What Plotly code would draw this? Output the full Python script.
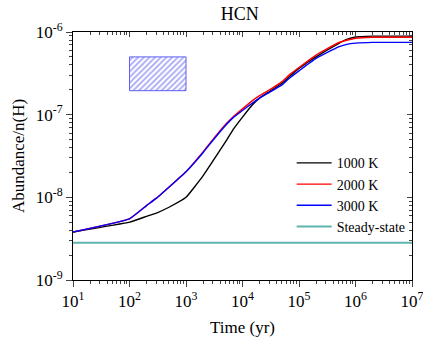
import numpy as np
import plotly.graph_objects as go

# Time (yr) and log10 abundance
t_1000 = [10, 100, 200, 300, 500, 1000, 2000, 3000, 5000, 7000, 1e4, 1.5e4, 2e4, 3e4, 5e4, 7e4, 1e5, 2e5, 5e5, 7e5, 1e6, 2e6, 1e7]
logy_1000 = [-8.42, -8.30, -8.23, -8.19, -8.12, -8.00, -7.74, -7.56, -7.33, -7.17, -7.03, -6.88, -6.80, -6.72, -6.62, -6.53, -6.44, -6.30, -6.14, -6.09, -6.06, -6.05, -6.05]

t_2000 = [10, 100, 200, 300, 1000, 2000, 3000, 5000, 7000, 1e4, 1.5e4, 2e4, 3e4, 5e4, 7e4, 1e5, 2e5, 5e5, 7e5, 1e6, 2e6, 1e7]
logy_2000 = [-8.42, -8.26, -8.10, -8.01, -7.69, -7.45, -7.30, -7.12, -7.02, -6.93, -6.83, -6.77, -6.70, -6.60, -6.51, -6.43, -6.28, -6.13, -6.10, -6.075, -6.064, -6.064]

t_3000 = [10, 100, 200, 300, 1000, 2000, 3000, 5000, 7000, 1e4, 1.5e4, 2e4, 3e4, 5e4, 7e4, 1e5, 2e5, 5e5, 7e5, 1e6, 2e6, 1e7]
logy_3000 = [-8.42, -8.26, -8.10, -8.01, -7.69, -7.46, -7.31, -7.13, -7.03, -6.95, -6.86, -6.80, -6.73, -6.64, -6.55, -6.47, -6.32, -6.18, -6.15, -6.135, -6.125, -6.125]

t_ss = [10, 1e7]
y_ss = [2.83e-9, 2.83e-9]

# hatched observational box
box_t = [100, 1000, 1000, 100, 100]
box_y = [1.95e-7, 1.95e-7, 5e-7, 5e-7, 1.95e-7]

x_tickvals = [10, 100, 1000, 1e4, 1e5, 1e6, 1e7]
x_ticktext = ["10<sup>1</sup>", "10<sup>2</sup>", "10<sup>3</sup>", "10<sup>4</sup>",
              "10<sup>5</sup>", "10<sup>6</sup>", "10<sup>7</sup>"]
y_tickvals = [1e-9, 1e-8, 1e-7, 1e-6]
y_ticktext = ["10<sup>-9</sup>", "10<sup>-8</sup>", "10<sup>-7</sup>", "10<sup>-6</sup>"]

FONT = "Liberation Serif, Times New Roman, serif"

def minor_vals(lo, hi):
    out = []
    for e in range(lo, hi):
        for m in range(2, 10):
            out.append(m * 10.0 ** e)
    return out

xminor = minor_vals(1, 7)
yminor = minor_vals(-9, -6)

fig = go.Figure()

fig.add_trace(go.Scatter(
    x=box_t, y=box_y, mode="lines", fill="toself",
    line=dict(color="rgba(70,70,240,0.85)", width=1),
    fillcolor="rgba(255,255,255,0)",
    fillpattern=dict(shape="/", fgcolor="rgba(60,60,235,0.9)", bgcolor="rgba(255,255,255,0)", size=4, solidity=0.45),
    showlegend=False, hoverinfo="skip"))

series = [
    ("1000 K", t_1000, logy_1000, "black"),
    ("2000 K", t_2000, logy_2000, "#ff0000"),
    ("3000 K", t_3000, logy_3000, "#0000ff"),
]
for name, t, ly, c in series:
    fig.add_trace(go.Scatter(x=t, y=[10 ** v for v in ly], mode="lines", name=name,
                             line=dict(color=c, width=1.4, shape="spline", smoothing=0.3)))

fig.add_trace(go.Scatter(x=t_ss, y=y_ss, mode="lines", name="Steady-state",
                         line=dict(color="#5fb3ae", width=2)))

axis_common = dict(type="log", showgrid=False, zeroline=False, showline=True,
                   linecolor="black", linewidth=1, automargin=False)

fig.update_layout(
    width=423, height=337,
    margin=dict(l=73, r=11, t=32, b=57),
    paper_bgcolor="white", plot_bgcolor="white",
    font=dict(family=FONT, size=17, color="black"),
    title=dict(text="HCN", x=0.567, xanchor="center", y=0.958, yanchor="middle",
               font=dict(family=FONT, size=18)),
    xaxis=dict(**axis_common, range=[1, 7], tickmode="array", tickvals=x_tickvals,
               ticktext=x_ticktext, ticks="outside", ticklen=6, tickwidth=1,
               tickfont=dict(family=FONT, size=17), ticklabeloverflow="allow",
               minor=dict(tickmode="array", tickvals=xminor, ticks="outside", ticklen=3, tickwidth=1, showgrid=False),
               title=dict(text="Time (yr)", font=dict(family=FONT, size=17), standoff=10)),
    yaxis=dict(**axis_common, range=[-9, -6], tickmode="array", tickvals=y_tickvals,
               ticktext=y_ticktext, ticks="outside", ticklen=6, tickwidth=1,
               tickfont=dict(family=FONT, size=17), ticklabeloverflow="allow",
               minor=dict(tickmode="array", tickvals=yminor, ticks="outside", ticklen=3, tickwidth=1, showgrid=False),
               title=dict(text="Abundance/n(H)", font=dict(family=FONT, size=17), standoff=6)),
    xaxis2=dict(**axis_common, range=[1, 7], overlaying="x", side="top", tickmode="array",
                tickvals=x_tickvals, ticks="inside", ticklen=5, showticklabels=False,
                minor=dict(tickmode="array", tickvals=xminor, ticks="inside", ticklen=3, showgrid=False)),
    yaxis2=dict(**axis_common, range=[-9, -6], overlaying="y", side="right", tickmode="array",
                tickvals=y_tickvals, ticks="inside", ticklen=5, showticklabels=False,
                minor=dict(tickmode="array", tickvals=yminor, ticks="inside", ticklen=3, showgrid=False)),
    legend=dict(x=0.645, y=0.535, xanchor="left", yanchor="top", bgcolor="rgba(0,0,0,0)",
                font=dict(family=FONT, size=14), tracegroupgap=0, itemwidth=35),
    showlegend=True,
)

# invisible trace to activate overlay axes
fig.add_trace(go.Scatter(x=[10], y=[1e-9], xaxis="x2", yaxis="y2", mode="markers",
                         marker=dict(opacity=0), showlegend=False, hoverinfo="skip"))

fig.write_html("out.html")
